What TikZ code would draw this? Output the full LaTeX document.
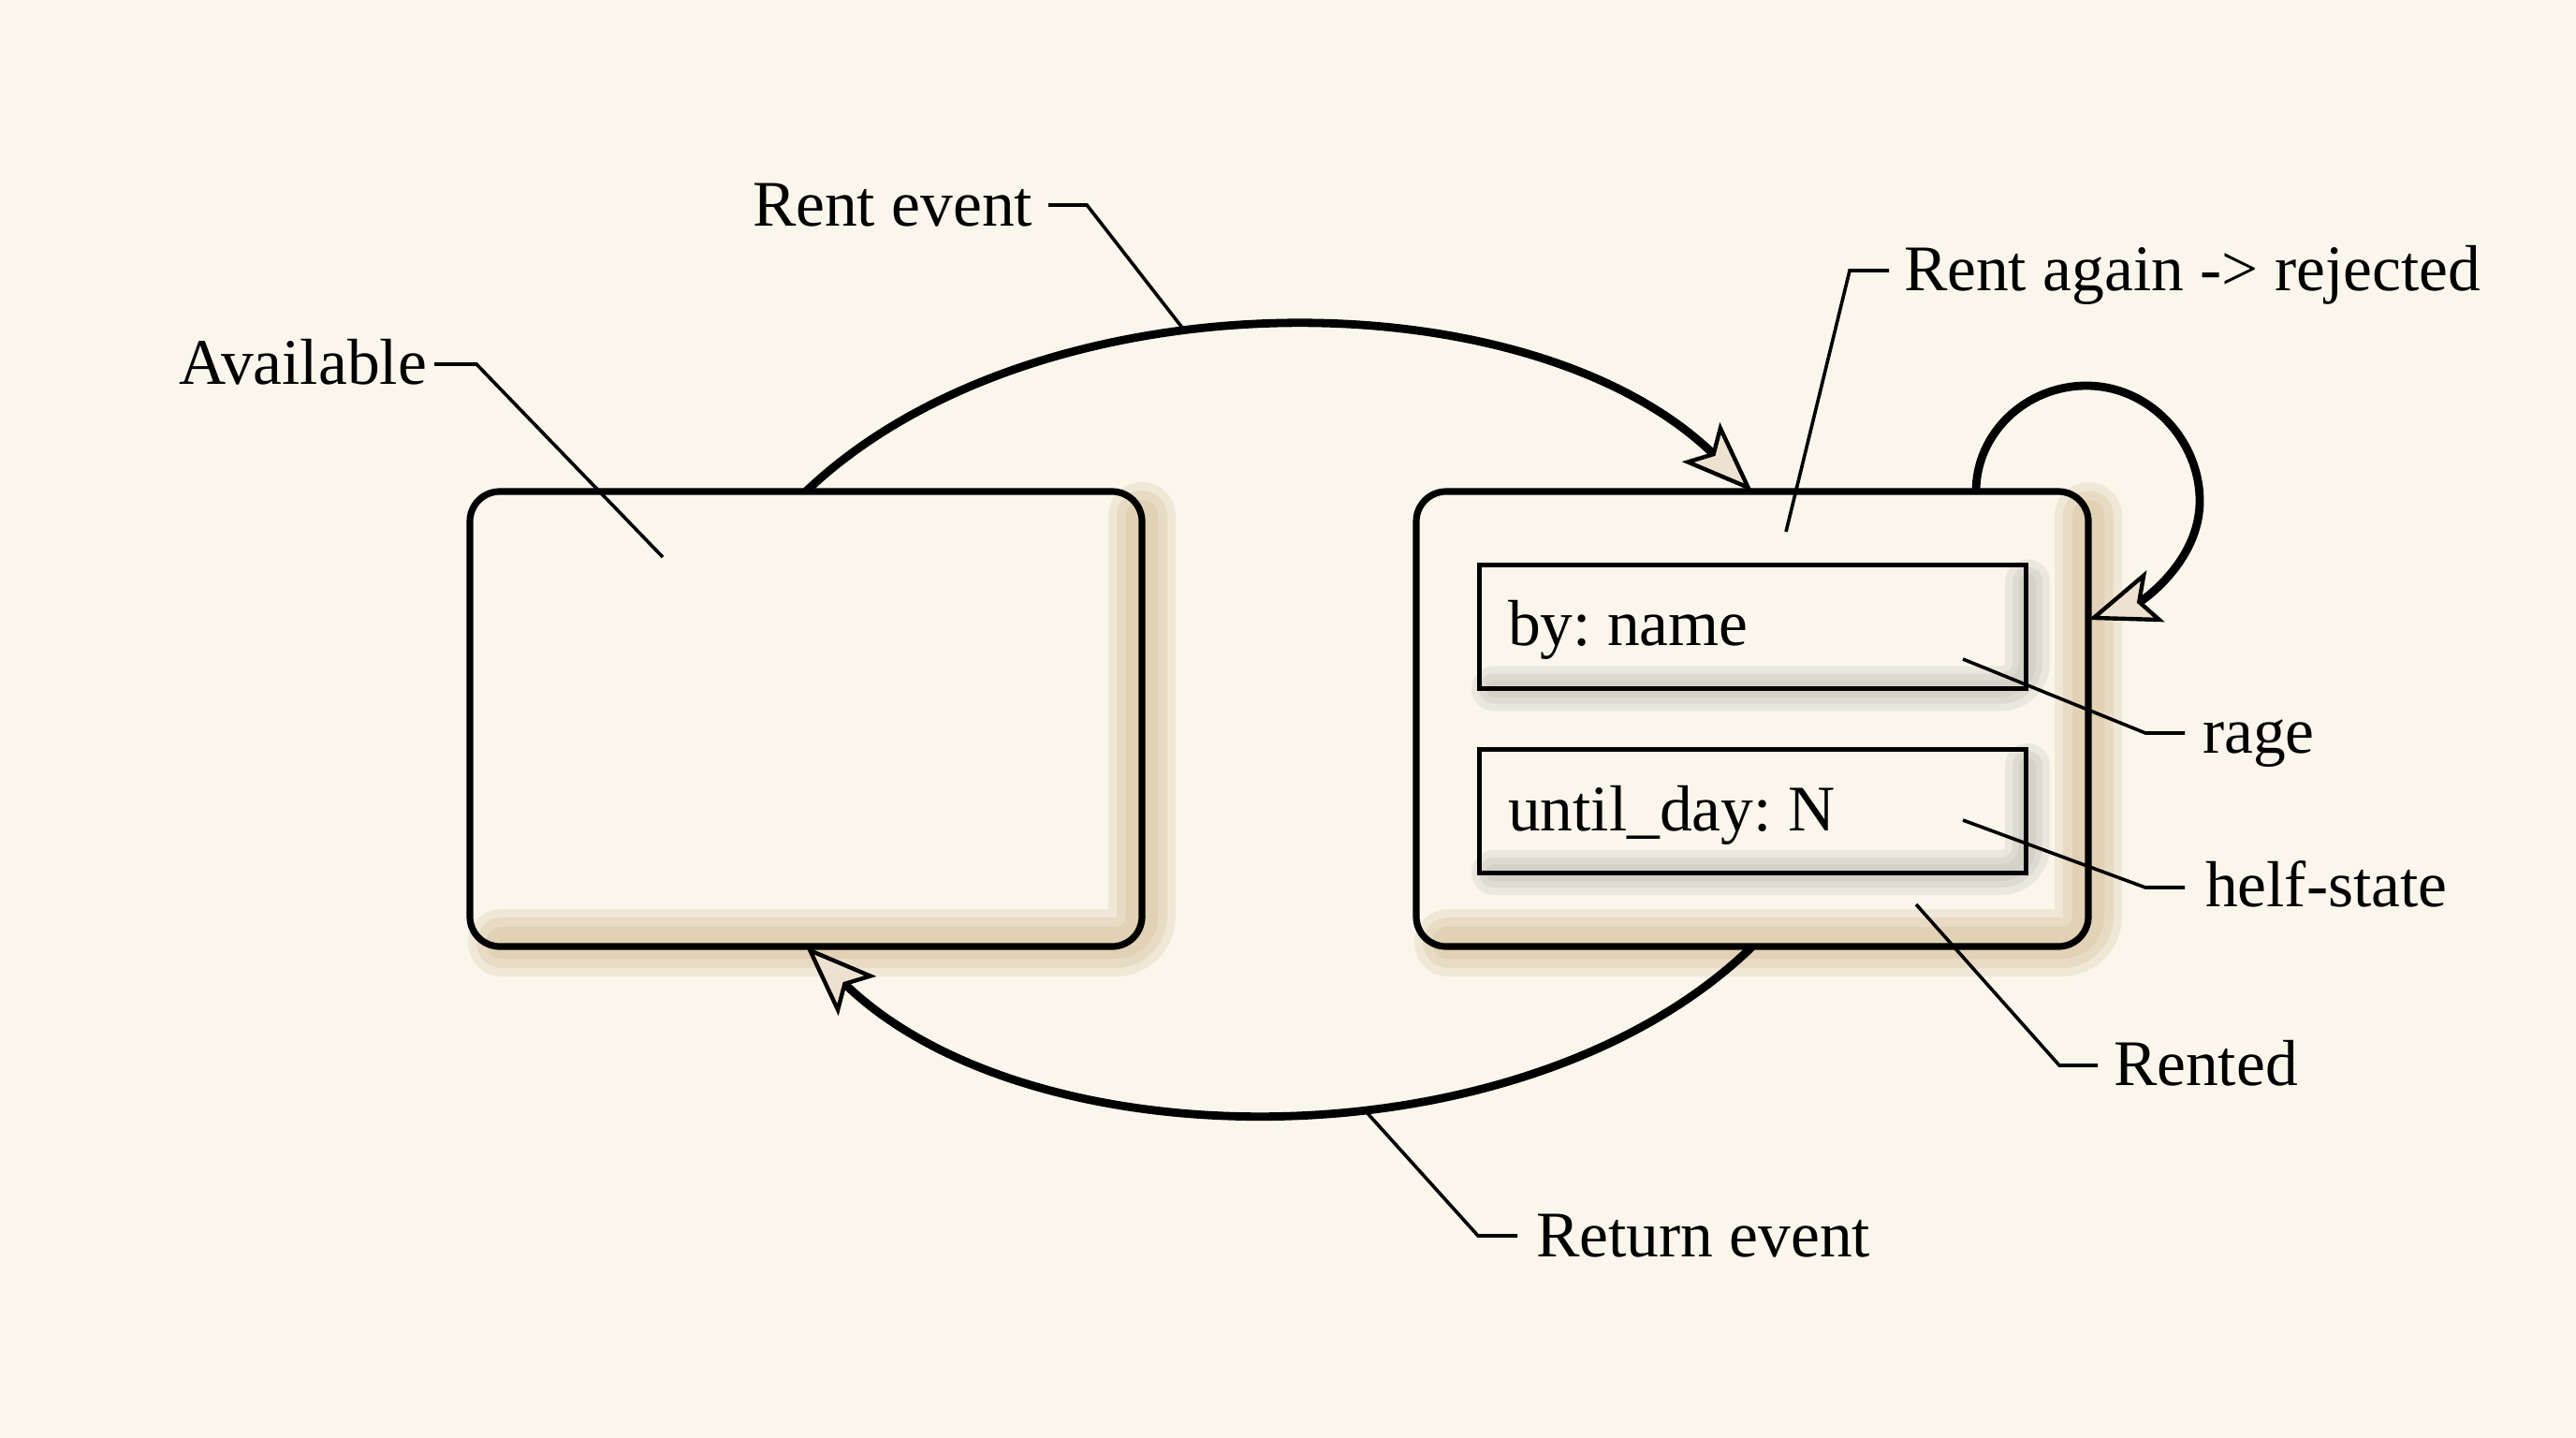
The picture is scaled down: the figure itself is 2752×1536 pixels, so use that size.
\documentclass[tikz,border=0pt]{standalone}
\usepackage{fontspec}
\setmainfont{Liberation Serif}
\usetikzlibrary{arrows.meta,calc}
\definecolor{paper}{HTML}{FAF6EC}
\definecolor{shadowtan}{HTML}{D6BF9B}
\definecolor{shadowgray}{HTML}{C4C1B9}
\definecolor{arrowfill}{HTML}{EDE2D0}
\pgfdeclarelayer{under}
\pgfsetlayers{under,main}
\frenchspacing
\begin{document}
\begin{tikzpicture}[x=0.5pt,y=-0.5pt,
  every node/.style={inner sep=0pt, outer sep=0pt},
  lbl/.style={anchor=base west, font=\fontsize{34.75}{40}\selectfont},
  state/.style={draw, line width=3.6pt, rounded corners=16pt, minimum width=359pt, minimum height=243pt},
  field/.style={draw, line width=2.5pt, minimum width=292pt, minimum height=66pt},
  trans/.style={line width=4.4pt, -{Stealth[length=38pt,width=29pt,inset=8pt,fill=arrowfill,line width=2.2pt]}},
  leader/.style={line width=1.8pt},
  softshade/.style={line cap=round, line join=round, rounded corners=14pt}
]
\useasboundingbox (0,0) rectangle (2752,1536);

% states
\node[state] (avail) at (861,768) {};
\node[state] (rented) at (1872,768) {};
\node[field] (fBy) at (1872,669.5) {};
\node[field] (fUntil) at (1872,866) {};

% texts inside
\node[lbl] (tBy) at (1611,689) {by: name};
\node[lbl] (tUntil) at (1611,887) {until\_day: N};

\begin{pgfonlayer}{under}
  \fill[paper] (0,0) rectangle (2752,1536);
  \foreach \b in {avail,rented} {
    \foreach \w/\o in {36/0.25, 27/0.30, 17/0.35} {
      \draw[softshade, shadowtan, line width=\w pt, opacity=\o]
        ($(\b.north east)+(0,26)$) -- ($(\b.south east)+(0,-4)$) -- ($(\b.south west)+(34,-4)$);
    }
  }
  \foreach \b in {fBy,fUntil} {
    \foreach \w/\o in {24/0.28, 16/0.33, 9/0.35} {
      \draw[softshade, shadowgray, line width=\w pt, opacity=\o]
        ($(\b.north east)+(2,18)$) -- ($(\b.south east)+(2,0)$) -- ($(\b.south west)+(16,0)$);
    }
  }
\end{pgfonlayer}

% transitions
\draw[trans] (avail.north) .. controls (1105,292) and (1630,292) .. (rented.north);
\draw[trans] (rented.south) .. controls (1630,1246) and (1105,1246) .. (avail.south);
\coordinate (loopS) at ($(rented.north east)+(-120,0)$);
\coordinate (loopE) at ($(rented.north east)+(0,137)$);
\draw[trans] (loopS) .. controls +(0,-62) and +(-65,0) .. (2229,412)
  .. controls +(67,0) and +(0,-65) .. (2350,535)
  .. controls +(0,65) and +(57,-20) .. (loopE);

% labels and leaders
\node[lbl] (lRent) at (804,241) {Rent event};
\coordinate (pRent) at (1263,350);
\draw[leader] ($(lRent.base east)+(17,-22)$) -- ++(41,0) -- (pRent);

\node[lbl] (lAvail) at (191,410) {Available};
\coordinate (pAvail) at (708,595);
\draw[leader] ($(lAvail.base east)+(8,-21)$) -- ++(45,0) -- (pAvail);

\node[lbl] (lAgain) at (2034,310) {Rent again -> rejected};
\coordinate (pAgain) at (1908,568);
\draw[leader] ($(lAgain.base west)+(-16,-21)$) -- ++(-42,0) -- (pAgain);

\node[lbl] (lRage) at (2353,804) {rage};
\coordinate (pRage) at (2097,704);
\draw[leader] ($(lRage.base west)+(-19,-21)$) -- ++(-42,0) -- (pRage);

\node[lbl] (lHelf) at (2356,968) {helf-state};
\coordinate (pHelf) at (2097,876);
\draw[leader] ($(lHelf.base west)+(-22,-20)$) -- ++(-42,0) -- (pHelf);

\node[lbl] (lRented) at (2258,1159) {Rented};
\coordinate (pRented) at (2047,966);
\draw[leader] ($(lRented.base west)+(-17,-21)$) -- ++(-41,0) -- (pRented);

\node[lbl] (lReturn) at (1641,1342) {Return event};
\coordinate (pReturn) at (1459,1187);
\draw[leader] ($(lReturn.base west)+(-20,-22)$) -- ++(-42,0) -- (pReturn);
\end{tikzpicture}
\end{document}
